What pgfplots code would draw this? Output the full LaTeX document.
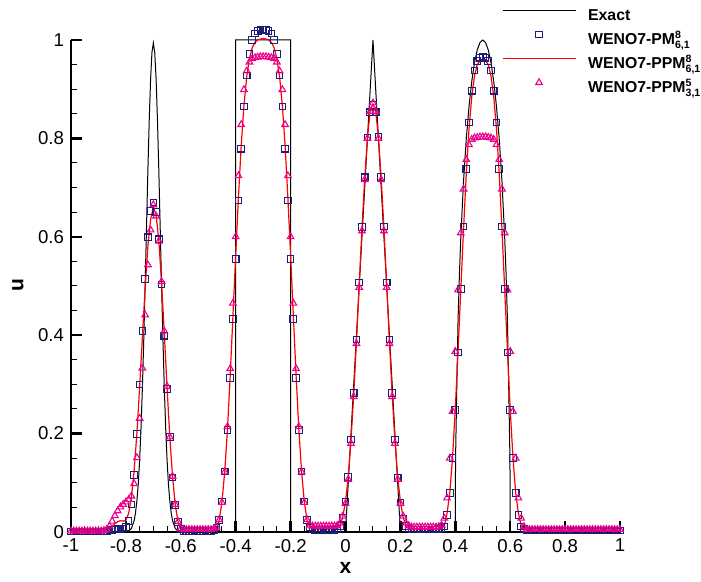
\documentclass[border=0pt]{standalone}
\usepackage{pgfplots}
\pgfplotsset{compat=1.18}
\usepackage{pgfplotstable}
\usepackage{fontspec}
\setmainfont{Liberation Sans}
\definecolor{navyc}{RGB}{30,30,120}
\newcommand\SupSub[2]{\makebox[0pt][l]{\raisebox{2.8pt}{\fontsize{5.3}{5.3}\selectfont #1}}\raisebox{-2.2pt}{\fontsize{5.3}{5.3}\selectfont #2}}

\pgfplotstableread{
x u
-1.0 0
-0.8 0
-0.79 0.002
-0.78 0.007
-0.77 0.023
-0.765 0.039
-0.76 0.063
-0.755 0.097
-0.75 0.146
-0.745 0.210
-0.74 0.292
-0.735 0.389
-0.73 0.500
-0.725 0.617
-0.72 0.733
-0.715 0.837
-0.71 0.921
-0.705 0.975
-0.70 0.994
-0.695 0.975
-0.69 0.921
-0.685 0.837
-0.68 0.733
-0.675 0.617
-0.67 0.500
-0.665 0.389
-0.66 0.292
-0.655 0.210
-0.65 0.146
-0.645 0.097
-0.64 0.063
-0.635 0.039
-0.63 0.023
-0.62 0.007
-0.61 0.002
-0.6 0
-0.4 0
-0.4 1
-0.2 1
-0.2 0
0.0 0
0.1 1
0.2 0
0.4 0
0.4 0.052
0.401 0.151
0.405 0.281
0.41 0.430
0.415 0.524
0.42 0.598
0.43 0.713
0.44 0.799
0.45 0.865
0.46 0.916
0.47 0.954
0.48 0.980
0.49 0.995
0.50 1.000
0.51 0.995
0.52 0.980
0.53 0.954
0.54 0.916
0.55 0.865
0.56 0.799
0.57 0.713
0.58 0.598
0.585 0.524
0.59 0.430
0.595 0.281
0.599 0.151
0.6 0.052
0.6 0
1.0 0
}\exactdata

\pgfplotstableread{
x pm ppm ppm5
-1.00 0.001 0.001 0.002
-0.99 0.001 0.001 0.002
-0.98 0.001 0.001 0.002
-0.97 0.001 0.001 0.002
-0.96 0.001 0.001 0.002
-0.95 0.001 0.001 0.002
-0.94 0.001 0.001 0.002
-0.93 0.001 0.001 0.002
-0.92 0.001 0.001 0.002
-0.91 0.001 0.001 0.002
-0.90 0.001 0.001 0.002
-0.89 0.001 0.001 0.002
-0.88 0.001 0.001 0.003
-0.87 0.002 0.003 0.005
-0.86 0.003 0.007 0.012
-0.85 0.004 0.012 0.022
-0.84 0.005 0.017 0.033
-0.83 0.006 0.021 0.043
-0.82 0.006 0.023 0.051
-0.81 0.007 0.022 0.056
-0.80 0.010 0.024 0.061
-0.79 0.022 0.038 0.066
-0.78 0.056 0.070 0.073
-0.77 0.116 0.125 0.098
-0.76 0.199 0.200 0.151
-0.75 0.300 0.295 0.231
-0.74 0.409 0.395 0.333
-0.73 0.514 0.495 0.441
-0.72 0.599 0.580 0.543
-0.71 0.652 0.635 0.614
-0.70 0.670 0.660 0.665
-0.69 0.650 0.645 0.642
-0.68 0.595 0.592 0.591
-0.67 0.503 0.505 0.509
-0.66 0.399 0.403 0.408
-0.65 0.291 0.293 0.296
-0.64 0.193 0.193 0.193
-0.63 0.111 0.112 0.113
-0.62 0.055 0.055 0.056
-0.61 0.020 0.020 0.021
-0.60 0.006 0.006 0.007
-0.59 0.002 0.003 0.005
-0.58 0.002 0.003 0.005
-0.57 0.002 0.003 0.005
-0.56 0.002 0.003 0.005
-0.55 0.002 0.003 0.005
-0.54 0.002 0.003 0.005
-0.53 0.002 0.003 0.005
-0.52 0.002 0.003 0.005
-0.51 0.002 0.003 0.005
-0.50 0.002 0.003 0.005
-0.49 0.002 0.003 0.005
-0.48 0.004 0.004 0.006
-0.47 0.009 0.009 0.010
-0.46 0.024 0.024 0.025
-0.45 0.062 0.061 0.060
-0.44 0.123 0.123 0.122
-0.43 0.207 0.209 0.214
-0.42 0.313 0.318 0.332
-0.41 0.433 0.440 0.465
-0.40 0.555 0.563 0.600
-0.39 0.674 0.680 0.724
-0.38 0.779 0.785 0.828
-0.37 0.865 0.866 0.899
-0.36 0.928 0.925 0.937
-0.35 0.972 0.962 0.955
-0.34 1.000 0.984 0.962
-0.33 1.013 0.995 0.964
-0.32 1.018 1.000 0.965
-0.31 1.020 1.002 0.966
-0.30 1.021 1.003 0.966
-0.29 1.020 1.002 0.966
-0.28 1.018 1.000 0.965
-0.27 1.013 0.995 0.964
-0.26 1.000 0.984 0.962
-0.25 0.972 0.962 0.955
-0.24 0.928 0.925 0.937
-0.23 0.865 0.866 0.899
-0.22 0.779 0.785 0.828
-0.21 0.674 0.680 0.724
-0.20 0.555 0.563 0.600
-0.19 0.433 0.440 0.465
-0.18 0.313 0.318 0.332
-0.17 0.207 0.209 0.214
-0.16 0.123 0.123 0.122
-0.15 0.062 0.061 0.060
-0.14 0.024 0.024 0.025
-0.13 0.009 0.010 0.014
-0.12 0.005 0.007 0.012
-0.11 0.004 0.006 0.012
-0.10 0.004 0.006 0.012
-0.09 0.004 0.006 0.012
-0.08 0.004 0.006 0.012
-0.07 0.004 0.006 0.012
-0.06 0.004 0.006 0.012
-0.05 0.004 0.006 0.012
-0.04 0.004 0.006 0.012
-0.03 0.006 0.007 0.013
-0.02 0.012 0.013 0.018
-0.01 0.028 0.030 0.032
0.00 0.062 0.062 0.058
0.01 0.112 0.112 0.107
0.02 0.188 0.186 0.180
0.03 0.283 0.280 0.275
0.04 0.391 0.388 0.383
0.05 0.507 0.503 0.497
0.06 0.620 0.617 0.612
0.07 0.721 0.719 0.716
0.08 0.802 0.802 0.800
0.09 0.853 0.856 0.855
0.10 0.868 0.870 0.872
0.11 0.853 0.856 0.855
0.12 0.803 0.802 0.800
0.13 0.722 0.719 0.716
0.14 0.621 0.617 0.612
0.15 0.507 0.503 0.497
0.16 0.391 0.388 0.383
0.17 0.283 0.280 0.275
0.18 0.188 0.186 0.180
0.19 0.110 0.112 0.107
0.20 0.060 0.062 0.058
0.21 0.026 0.030 0.032
0.22 0.012 0.013 0.018
0.23 0.007 0.007 0.013
0.24 0.005 0.006 0.010
0.25 0.005 0.006 0.010
0.26 0.005 0.006 0.010
0.27 0.005 0.006 0.010
0.28 0.005 0.006 0.010
0.29 0.005 0.006 0.010
0.30 0.005 0.006 0.010
0.31 0.005 0.006 0.010
0.32 0.005 0.006 0.010
0.33 0.005 0.006 0.010
0.34 0.006 0.007 0.011
0.35 0.008 0.009 0.014
0.36 0.011 0.013 0.028
0.37 0.035 0.038 0.069
0.38 0.079 0.080 0.150
0.39 0.150 0.152 0.245
0.40 0.248 0.250 0.367
0.41 0.365 0.368 0.492
0.42 0.494 0.492 0.608
0.43 0.621 0.615 0.697
0.44 0.738 0.728 0.757
0.45 0.832 0.820 0.787
0.46 0.897 0.885 0.798
0.47 0.938 0.927 0.801
0.48 0.957 0.950 0.802
0.49 0.964 0.958 0.803
0.50 0.966 0.960 0.803
0.51 0.964 0.958 0.803
0.52 0.957 0.950 0.802
0.53 0.938 0.927 0.801
0.54 0.897 0.885 0.798
0.55 0.832 0.820 0.787
0.56 0.738 0.728 0.757
0.57 0.621 0.615 0.697
0.58 0.494 0.492 0.608
0.59 0.365 0.368 0.492
0.60 0.248 0.250 0.367
0.61 0.150 0.152 0.245
0.62 0.079 0.080 0.150
0.63 0.035 0.038 0.069
0.64 0.011 0.013 0.028
0.65 0.006 0.007 0.011
0.66 0.003 0.003 0.005
0.67 0.003 0.003 0.005
0.68 0.003 0.003 0.005
0.69 0.003 0.003 0.005
0.70 0.003 0.003 0.005
0.71 0.003 0.003 0.005
0.72 0.003 0.003 0.005
0.73 0.003 0.003 0.005
0.74 0.003 0.003 0.005
0.75 0.003 0.003 0.005
0.76 0.003 0.003 0.005
0.77 0.003 0.003 0.005
0.78 0.003 0.003 0.005
0.79 0.003 0.003 0.005
0.80 0.003 0.003 0.005
0.81 0.003 0.003 0.005
0.82 0.003 0.003 0.005
0.83 0.003 0.003 0.005
0.84 0.003 0.003 0.005
0.85 0.003 0.003 0.005
0.86 0.003 0.003 0.005
0.87 0.003 0.003 0.005
0.88 0.003 0.003 0.005
0.89 0.003 0.003 0.005
0.90 0.003 0.003 0.005
0.91 0.003 0.003 0.005
0.92 0.003 0.003 0.005
0.93 0.003 0.003 0.005
0.94 0.003 0.003 0.005
0.95 0.003 0.003 0.005
0.96 0.003 0.003 0.005
0.97 0.003 0.003 0.005
0.98 0.003 0.003 0.005
0.99 0.003 0.003 0.005
1.00 0.003 0.003 0.005
}\numdata

\begin{document}
\begin{tikzpicture}
\begin{axis}[name=ax,
  width=274.5pt, height=246pt, scale only axis,
  xmin=-1, xmax=1, ymin=0, ymax=1,
  axis lines=left, axis line style={-, line width=1.25pt},
  clip=false,
  xtick={-1,-0.8,-0.6,-0.4,-0.2,0,0.2,0.4,0.6,0.8,1},
  xticklabels={-1,-0.8,-0.6,-0.4,-0.2,0,0.2,0.4,0.6,0.8,1},
  ytick={0,0.2,0.4,0.6,0.8,1},
  yticklabels={0,0.2,0.4,0.6,0.8,1},
  minor x tick num=3, minor y tick num=3,
  tick align=inside,
  major tick length=5.5pt, minor tick length=3pt,
  major tick style={line width=1.25pt, black},
  minor tick style={line width=0.5pt, black},
  ticklabel style={font=\fontsize{9.3}{10}\selectfont},
  xlabel={x}, ylabel={u},
  label style={font=\fontsize{10.5}{12}\selectfont\bfseries},
  xlabel style={at={(axis description cs:0.5,-0.073)}, anchor=center},
  ylabel style={at={(axis description cs:-0.0965,0.502)}, anchor=center},
  legend style={draw=none, fill=none, at={(0.785,1.072)}, anchor=north west,
    inner sep=0pt, outer sep=0pt, font=\fontsize{7.9}{9}\selectfont\bfseries,
    row sep=0pt, column sep=6pt,
    nodes={inner sep=0pt, text height=8pt, text depth=4pt}},
  legend cell align=left,
  legend image code/.code={\draw[mark repeat=2,mark phase=2,#1] plot coordinates {(0pt,3pt) (18.25pt,3pt) (36.5pt,3pt)};},
]
\addplot[black, line width=0.5pt] table[x=x,y=u]{\exactdata};
\addlegendentry{Exact}
\addplot[only marks, mark=square, mark size=1.65pt, navyc, mark options={line width=0.55pt}] table[x=x,y=pm]{\numdata};
\addlegendentry{WENO7-PM\SupSub{8}{6,1}}
\addplot[red, line width=0.6pt] table[x=x,y=ppm]{\numdata};
\addlegendentry{WENO7-PPM\SupSub{8}{6,1}}
\addplot[only marks, mark=triangle, mark size=1.9pt, magenta, mark options={line width=0.55pt}] table[x=x,y=ppm5]{\numdata};
\addlegendentry{WENO7-PPM\SupSub{5}{3,1}}
\end{axis}
\pgfresetboundingbox
\path[use as bounding box] ([xshift=-35.5pt,yshift=-25pt]ax.south west) rectangle ([xshift=40.5pt,yshift=20pt]ax.north east);
\end{tikzpicture}
\end{document}
